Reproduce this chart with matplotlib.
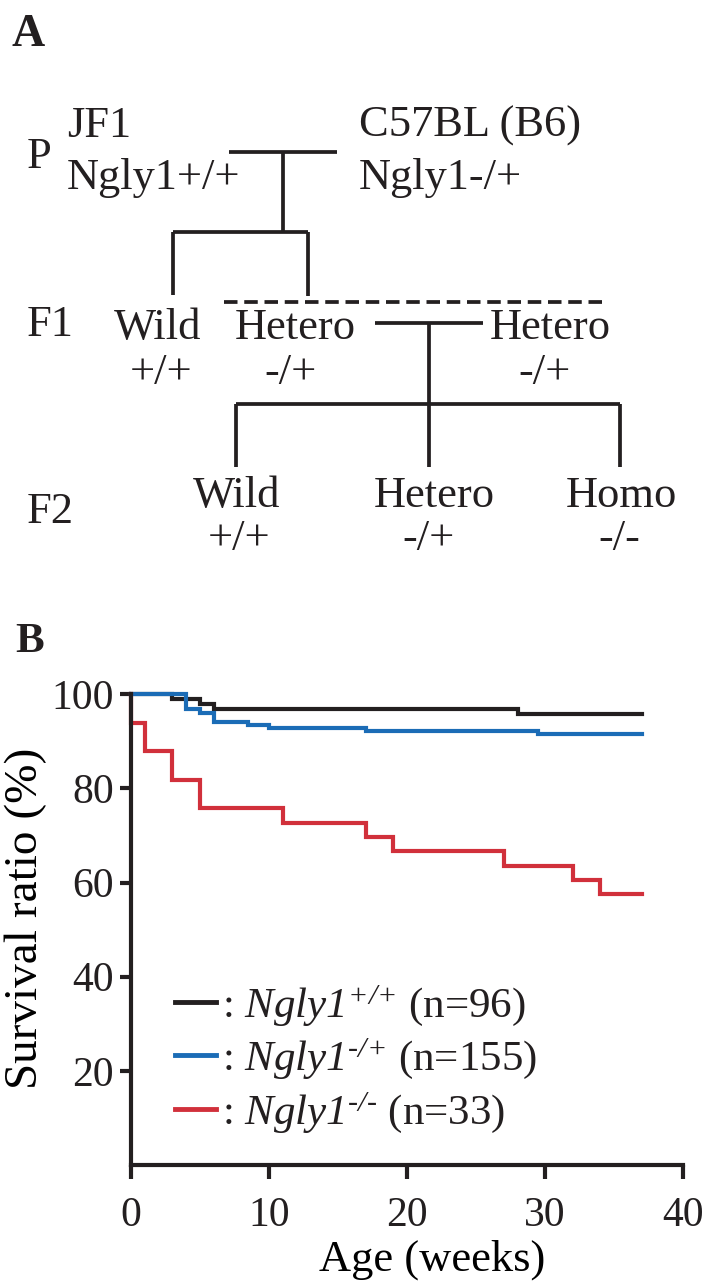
import matplotlib
matplotlib.use("Agg")
import matplotlib.pyplot as plt
from matplotlib.lines import Line2D

plt.rcParams['font.family'] = ['Liberation Serif', 'DejaVu Serif']
plt.rcParams['mathtext.fontset'] = 'custom'
plt.rcParams['mathtext.rm'] = 'Liberation Serif:italic'
plt.rcParams['mathtext.it'] = 'Liberation Serif:italic'
plt.rcParams['text.color'] = '#231f20'

INK = '#231f20'
HY = '\u2010'  # short hyphen for superscripts

# ---- survival data (weeks, %) ----
wt_t = [0, 3, 5, 6, 28, 37]
wt_s = [100, 99.0, 97.9, 96.9, 95.8, 95.8]

het_t = [0, 4, 5, 6, 8.5, 10, 17, 29.5, 37]
het_s = [100, 96.8, 96.1, 94.2, 93.5, 92.9, 92.3, 91.6, 91.6]

homo_t = [0, 0, 1, 3, 5, 11, 17, 19, 27, 32, 34, 37]
homo_s = [100, 93.9, 87.9, 81.8, 75.8, 72.7, 69.7, 66.7, 63.6, 60.6, 57.6, 57.6]

labels = [r': $Ngly1^{{+}/{+}}$ (n=96)',
          r': $Ngly1^{' + HY + r'/{+}}$ (n=155)',
          r': $Ngly1^{' + HY + '/' + HY + r'}$ (n=33)']
colors = [INK, '#1b6cb6', '#d1303b']

x_ticks = [0, 10, 20, 30, 40]
y_ticks = [20, 40, 60, 80, 100]

# ---- pedigree (panel A) text ----
ped_texts = [
    ('P', 27, 168, 'left'),
    ('JF1', 67, 137, 'left'),
    ('Ngly1+/+', 67, 189, 'left'),
    ('C57BL (B6)', 359, 137, 'left'),
    ('Ngly1-/+', 359, 189, 'left'),
    ('F1', 27, 336, 'left'),
    ('Wild', 158, 339, 'center'),
    ('+/+', 161, 384, 'center'),
    ('Hetero', 295, 339, 'center'),
    ('-/+', 291, 384, 'center'),
    ('Hetero', 550, 339, 'center'),
    ('-/+', 545, 384, 'center'),
    ('F2', 27, 523, 'left'),
    ('Wild', 237, 507, 'center'),
    ('+/+', 239, 550, 'center'),
    ('Hetero', 434, 507, 'center'),
    ('-/+', 429, 550, 'center'),
    ('Homo', 621, 507, 'center'),
    ('-/-', 619, 550, 'center'),
]
# cross lines in pixel layout (x0, y0, x1, y1)
ped_lines = [
    (229, 152, 337, 152), (283, 152, 283, 232),
    (173, 232, 308, 232), (173, 232, 173, 295), (308, 232, 308, 296),
    (375, 323, 483, 323), (429, 323, 429, 404),
    (236, 404, 620, 404), (236, 404, 236, 467),
    (429, 404, 429, 467), (620, 404, 620, 467),
]

fig = plt.figure(figsize=(7.04, 12.87), dpi=100)

# panel A drawn in pixel coords
axa = fig.add_axes([0, 0, 1, 1])
axa.set_xlim(0, 704)
axa.set_ylim(1287, 0)
axa.axis('off')
axa.text(11, 46, 'A', fontsize=33, fontweight='bold', va='baseline')
axa.text(15, 652, 'B', fontsize=31, fontweight='bold', va='baseline')
for s, x, y, ha in ped_texts:
    axa.text(x, y, s, fontsize=32, ha=ha, va='baseline')
for x0, y0, x1, y1 in ped_lines:
    axa.plot([x0, x1], [y0, y1], color=INK, lw=2.7, solid_capstyle='butt')
axa.plot([224, 608], [302, 302], color=INK, lw=2.7, dashes=(3.6, 1.8))

# panel B
ax = fig.add_axes([130.7 / 704, 1 - 1165 / 1287, 552.6 / 704, 470.7 / 1287])
ax.patch.set_alpha(0)
for t, s, c in zip([wt_t, het_t, homo_t], [wt_s, het_s, homo_s], colors):
    ax.plot(t, s, drawstyle='steps-post', color=c, lw=3, clip_on=False,
            solid_joinstyle='miter')

ax.set_xlim(0, 40)
ax.set_ylim(0, 100)
ax.set_xticks(x_ticks)
ax.set_yticks(y_ticks)
ax.spines['top'].set_visible(False)
ax.spines['right'].set_visible(False)
for sp in ['left', 'bottom']:
    ax.spines[sp].set_linewidth(3)
    ax.spines[sp].set_color(INK)
ax.tick_params(axis='x', length=10, width=3, pad=13, labelsize=30, colors=INK)
ax.tick_params(axis='y', length=8, width=3, pad=4, labelsize=30, colors=INK)
ax.set_xlabel('Age (weeks)', fontsize=32, va='center')
ax.xaxis.set_label_coords(0.546, -0.202)
ax.set_ylabel('Survival ratio (%)', fontsize=34, va='center')
ax.yaxis.set_label_coords(-0.19, 0.525)

handles = [Line2D([0], [0], color=c, lw=3.5) for c in colors]
ax.legend(handles, labels, loc='upper left', bbox_to_anchor=(0.08, 0.387),
          frameon=False, fontsize=31, handlelength=0.95, handletextpad=0.15,
          labelspacing=0.2, borderpad=0, borderaxespad=0)

fig.savefig('out.png', dpi=100)
